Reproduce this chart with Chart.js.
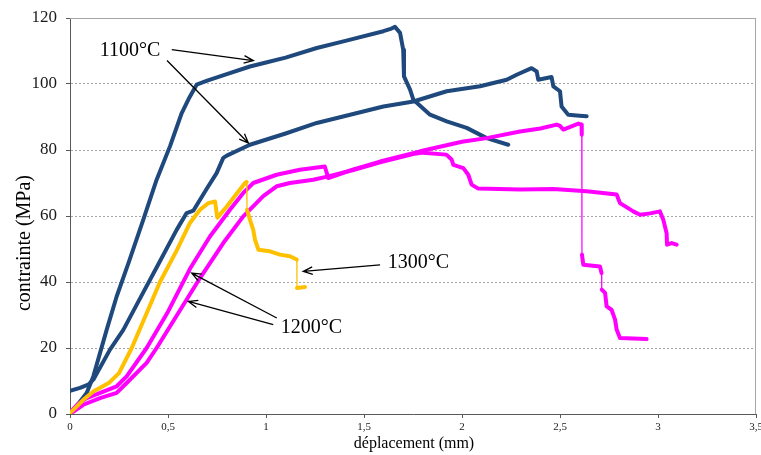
<!DOCTYPE html>
<html>
<head>
<meta charset="utf-8">
<script src="https://cdn.jsdelivr.net/npm/chart.js@4.4.0/dist/chart.umd.min.js"></script>
<style>
  html, body { margin: 0; padding: 0; background: #fff; }
  #chart { display: block; }
</style>
</head>
<body>
<canvas id="chart" width="761" height="455"></canvas>
<script>
// Valeurs (déplacement en mm, contrainte en MPa)
const xTickLabels = ['0', '0,5', '1', '1,5', '2', '2,5', '3', '3,5'];
const yTickLabels = ['0', '20', '40', '60', '80', '100', '120'];

// 1100°C - courbe haute
const blueA_x = [0, 0.026, 0.085, 0.119, 0.187, 0.238, 0.30, 0.374, 0.442, 0.51, 0.57, 0.61, 0.646, 0.70, 0.80, 0.918, 1.0, 1.1, 1.259, 1.4, 1.599, 1.64, 1.658, 1.684, 1.70, 1.704, 1.735, 1.752, 1.837, 1.922, 2.024, 2.126, 2.236];
const blueA_y = [0, 1.8, 6.4, 11.4, 25.5, 35.6, 46, 58.9, 71, 81.1, 91.2, 96, 99.8, 101, 103, 105.3, 106.5, 108, 110.9, 113, 116, 116.8, 117.3, 115.5, 110.4, 102.3, 98.3, 95.2, 90.7, 88.7, 86.7, 83.6, 81.6];

// 1100°C - courbe basse
const blueB_x = [0, 0.051, 0.093, 0.119, 0.204, 0.272, 0.35, 0.45, 0.544, 0.595, 0.629, 0.70, 0.748, 0.782, 0.80, 0.918, 1.1, 1.259, 1.45, 1.599, 1.752, 1.922, 2.092, 2.228, 2.279, 2.355, 2.381, 2.389, 2.457, 2.466, 2.5, 2.508, 2.542, 2.60, 2.636];
const blueB_y = [7, 7.9, 8.9, 10.4, 19.5, 25.5, 34.2, 45.3, 55.8, 60.9, 61.6, 68.5, 73, 77.6, 78.3, 81.6, 85, 88.2, 91, 93.2, 94.7, 97.8, 99.3, 101.3, 102.8, 104.8, 103.8, 101.3, 102.1, 99.3, 97.8, 93.2, 90.7, 90.4, 90.2];

// 1200°C - première courbe
const magA_x = [0, 0.04, 0.085, 0.17, 0.238, 0.289, 0.391, 0.5, 0.612, 0.714, 0.816, 0.884, 0.935, 1.054, 1.173, 1.30, 1.318, 1.45, 1.582, 1.786, 2.0, 2.126, 2.296, 2.40, 2.483, 2.50, 2.517, 2.594, 2.61, 2.611, 2.612, 2.619, 2.704, 2.712, 2.713, 2.73, 2.738, 2.763, 2.781, 2.789, 2.806, 2.942];
const magA_y = [0.5, 3, 4.8, 6.8, 8.4, 11.4, 20, 31, 44, 53.8, 61.9, 67, 70, 72.5, 74, 75, 71.5, 74.2, 76.5, 79.6, 82.5, 83.6, 85.6, 86.5, 87.7, 87.3, 86.2, 88, 87.7, 84.6, 48.3, 45.2, 44.7, 42.7, 37.7, 36.7, 32.6, 31.6, 28.6, 25.6, 23, 22.7];

// 1200°C - seconde courbe
const magB_x = [0, 0.068, 0.153, 0.238, 0.289, 0.391, 0.442, 0.51, 0.612, 0.66, 0.782, 0.884, 0.986, 1.054, 1.122, 1.241, 1.318, 1.45, 1.582, 1.75, 1.80, 1.92, 1.947, 1.956, 2.007, 2.032, 2.049, 2.083, 2.296, 2.466, 2.636, 2.789, 2.806, 2.874, 2.908, 2.96, 3.01, 3.027, 3.044, 3.046, 3.07, 3.095];
const magB_y = [0, 2.8, 4.8, 6.4, 9.4, 15.5, 20, 26.5, 36.3, 40.9, 51.8, 59.9, 66, 69, 70, 71, 72, 74, 76.3, 78.8, 79.2, 78.6, 77.1, 75.5, 74.5, 72.5, 69.5, 68.3, 68, 68.2, 67.5, 66.5, 63.9, 61.4, 60.4, 60.8, 61.4, 58.9, 54.8, 51.3, 51.8, 51.3];

// 1300°C
const yellow_x = [0, 0.03, 0.068, 0.119, 0.2, 0.25, 0.315, 0.38, 0.459, 0.544, 0.612, 0.663, 0.706, 0.74, 0.748, 0.752, 0.8, 0.867, 0.893, 0.901, 0.903, 0.918, 0.935, 0.944, 0.961, 1.02, 1.071, 1.122, 1.157, 1.158, 1.199];
const yellow_y = [0.3, 2, 4.3, 6.8, 9.5, 12.4, 20, 29, 40, 49.5, 57.9, 61.9, 63.9, 64.4, 61, 59.5, 62.9, 68, 70, 70.3, 61.9, 58.9, 55.8, 52.8, 49.8, 49.3, 48.3, 47.8, 46.8, 38.2, 38.5];

// Étiquettes et flèches (en unités des axes)
const notes = [
  { text: '1100°C', x: 0.306, y: 110.1, arrows: [[0.519, 110.4, 0.935, 107.1], [0.495, 107.1, 0.910, 82.1]] },
  { text: '1300°C', x: 1.778, y: 45.7, arrows: [[1.582, 45.2, 1.190, 43.2]] },
  { text: '1200°C', x: 1.232, y: 26.0, arrows: [[1.055, 29.1, 0.621, 42.7], [1.037, 27.1, 0.604, 34.1]] }
];

const BLUE = '#1F497D';
const MAGENTA = '#FF00FF';
const YELLOW = '#FFC000';
const SERIF = '"Liberation Serif", "Times New Roman", serif';

const toPoints = (xs, ys) => xs.map((x, i) => ({ x: x, y: ys[i] }));

// les chutes brutales sont tracées en trait fin comme dans Excel
const thinDrop = (ctx) => {
  const dx = Math.abs(ctx.p1.parsed.x - ctx.p0.parsed.x);
  const dy = Math.abs(ctx.p1.parsed.y - ctx.p0.parsed.y);
  return (dx < 0.003 && dy > 4.5) ? 1.2 : undefined;
};

const makeSet = (label, xs, ys, color) => ({
  label: label,
  data: toPoints(xs, ys),
  borderColor: color,
  backgroundColor: color,
  borderWidth: 4,
  borderJoinStyle: 'round',
  borderCapStyle: 'round',
  pointRadius: 0,
  tension: 0,
  fill: false,
  segment: { borderWidth: thinDrop }
});

function drawArrow(ctx, x1, y1, x2, y2) {
  const ang = Math.atan2(y2 - y1, x2 - x1);
  const head = 10, spread = 0.38;
  ctx.beginPath();
  ctx.moveTo(x1, y1);
  ctx.lineTo(x2, y2);
  ctx.moveTo(x2 - head * Math.cos(ang - spread), y2 - head * Math.sin(ang - spread));
  ctx.lineTo(x2, y2);
  ctx.lineTo(x2 - head * Math.cos(ang + spread), y2 - head * Math.sin(ang + spread));
  ctx.stroke();
}

const decorations = {
  id: 'decorations',
  beforeDatasetsDraw(chart) {
    const { ctx, chartArea } = chart;
    // bordure haute et droite de la zone de tracé
    ctx.save();
    ctx.strokeStyle = '#a6a6a6';
    ctx.lineWidth = 1;
    ctx.beginPath();
    ctx.moveTo(chartArea.left, chartArea.top + 0.5);
    ctx.lineTo(chartArea.right - 0.5, chartArea.top + 0.5);
    ctx.lineTo(chartArea.right - 0.5, chartArea.bottom);
    ctx.stroke();
    ctx.restore();
  },
  afterDraw(chart) {
    const { ctx } = chart;
    const xs = chart.scales.x, ys = chart.scales.y;
    ctx.save();
    // titres des axes
    ctx.fillStyle = '#000';
    ctx.textAlign = 'center';
    ctx.textBaseline = 'middle';
    ctx.font = '16px ' + SERIF;
    ctx.fillText('déplacement (mm)', 414, 444);
    ctx.save();
    ctx.translate(25, 243);
    ctx.rotate(-Math.PI / 2);
    ctx.font = '20px ' + SERIF;
    ctx.fillText('contrainte (MPa)', 0, 0);
    ctx.restore();

    // annotations
    ctx.font = '20px ' + SERIF;
    ctx.strokeStyle = '#000';
    ctx.lineWidth = 1.3;
    notes.forEach(n => {
      ctx.fillText(n.text, xs.getPixelForValue(n.x), ys.getPixelForValue(n.y));
      n.arrows.forEach(a => {
        drawArrow(ctx,
          xs.getPixelForValue(a[0]), ys.getPixelForValue(a[1]),
          xs.getPixelForValue(a[2]), ys.getPixelForValue(a[3]));
      });
    });
    ctx.restore();
  }
};

new Chart(document.getElementById('chart'), {
  type: 'line',
  data: {
    datasets: [
      makeSet('1300°C', yellow_x, yellow_y, YELLOW),
      makeSet('1200°C a', magA_x, magA_y, MAGENTA),
      makeSet('1200°C b', magB_x, magB_y, MAGENTA),
      makeSet('1100°C b', blueB_x, blueB_y, BLUE),
      makeSet('1100°C a', blueA_x, blueA_y, BLUE)
    ]
  },
  options: {
    responsive: false,
    animation: false,
    devicePixelRatio: 1,
    layout: { padding: { top: 18, right: 5, left: 0, bottom: 0 } },
    plugins: {
      legend: { display: false },
      tooltip: { enabled: false }
    },
    scales: {
      x: {
        type: 'linear',
        min: 0,
        max: 3.5,
        ticks: {
          stepSize: 0.5,
          autoSkip: false,
          maxRotation: 0,
          padding: 3,
          color: '#1a1a1a',
          font: { family: SERIF, size: 11 },
          callback: (v, i) => xTickLabels[i]
        },
        grid: { drawOnChartArea: false, tickLength: 4, tickColor: '#595959' },
        border: { color: '#595959', width: 1 },
        afterFit: (s) => { s.height = 41; s.paddingLeft = 0; s.paddingRight = 0; }
      },
      y: {
        min: 0,
        max: 120,
        ticks: {
          stepSize: 20,
          padding: 9,
          color: '#1a1a1a',
          font: { family: SERIF, size: 17 },
          callback: (v, i) => yTickLabels[i]
        },
        grid: { color: '#a6a6a6', lineWidth: 1, tickLength: 4, tickColor: '#595959' },
        border: { color: '#595959', width: 1, dash: [2, 2] },
        afterFit: (s) => { s.width = 70; s.paddingTop = 0; s.paddingBottom = 0; }
      }
    }
  },
  plugins: [decorations]
});
</script>
</body>
</html>
